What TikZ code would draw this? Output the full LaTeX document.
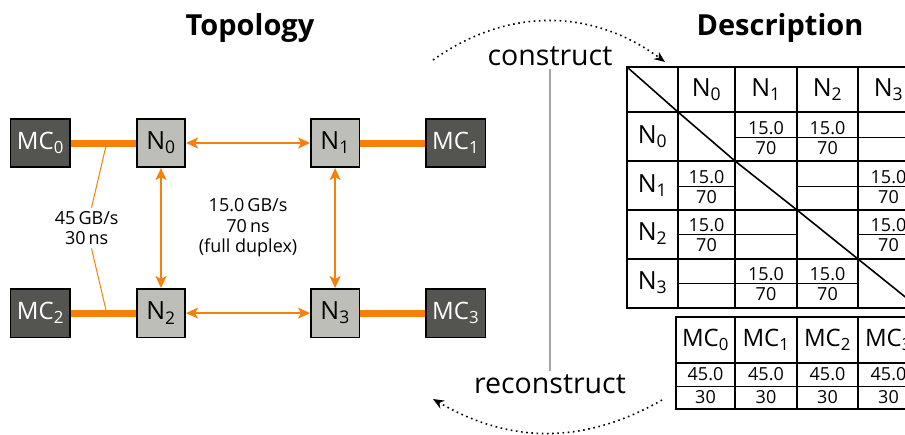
\documentclass[tikz,border=0pt]{standalone}
\usepackage{fontspec}
\setmainfont{Open Sans}
\usepackage{xcolor}
\usetikzlibrary{arrows.meta,positioning,calc}

\definecolor{linkorange}{RGB}{245,128,10}
\definecolor{nodegray}{RGB}{188,190,183}
\definecolor{mcgray}{RGB}{84,85,80}
\definecolor{divgray}{RGB}{165,165,165}
\newcommand{\idx}[1]{\textsubscript{#1}}

\begin{document}
\begin{tikzpicture}[
    x=1pt, y=-1pt,
    nodebox/.style={draw, line width=1.6pt, fill=nodegray, minimum size=48.5pt, inner sep=0pt, font=\fontsize{25}{28}\selectfont},
    mcbox/.style={draw, line width=1.6pt, fill=mcgray, text=white, minimum width=59.5pt, minimum height=48.5pt, inner sep=0pt, font=\fontsize{24}{27}\selectfont},
    mclink/.style={line width=7pt, linkorange},
    link/.style={{Stealth[length=12pt,width=11pt,inset=3pt]}-{Stealth[length=12pt,width=11pt,inset=3pt]}, line width=2pt, linkorange},
    bwline/.style={line width=1pt, linkorange},
    note/.style={align=center, font=\fontsize{18}{20.5}\selectfont},
    title/.style={font=\fontsize{29}{32}\selectfont\bfseries},
    verb/.style={font=\fontsize{28.5}{32}\selectfont},
    divider/.style={line width=2pt, divgray},
    flow/.style={-{Stealth[length=11pt,width=9pt]}, line width=1.6pt, dash pattern=on 1.6pt off 3.6pt},
    grid/.style={line width=1.6pt},
    half/.style={line width=0.9pt},
    hdr/.style={font=\fontsize{25}{28}\selectfont},
    mhdr/.style={font=\fontsize{24}{27}\selectfont},
    val/.style={font=\fontsize{18}{20}\selectfont, inner sep=0pt},
]
    \useasboundingbox (0,0) rectangle (905,434);
    \clip (0,0) rectangle (905,434);

    % topology
    \node[title] (topo) at (250,28) {Topology};
    \node[nodebox] (n0) at (161,143) {N\idx{0}};
    \node[nodebox, right=124pt of n0] (n1) {N\idx{1}};
    \node[nodebox, below=120pt of n0] (n2) {N\idx{2}};
    \node[nodebox, below=120pt of n1] (n3) {N\idx{3}};
    \node[mcbox, left=65pt of n0] (mc0) {MC\idx{0}};
    \node[mcbox, right=65pt of n1] (mc1) {MC\idx{1}};
    \node[mcbox, left=65pt of n2] (mc2) {MC\idx{2}};
    \node[mcbox, right=65pt of n3] (mc3) {MC\idx{3}};

    \draw[mclink] (mc0) -- (n0);
    \draw[mclink] (mc1) -- (n1);
    \draw[mclink] (mc2) -- (n2);
    \draw[mclink] (mc3) -- (n3);

    \draw[link] (n0) -- (n1);
    \draw[link] (n2) -- (n3);
    \draw[link] (n0) -- (n2);
    \draw[link] (n1) -- (n3);

    \coordinate (bw0) at ($(mc0.east)!.55!(n0.west)$);
    \coordinate (bw2) at ($(mc2.east)!.55!(n2.west)$);
    \node[note] (mclab) at ($(bw0)!.5!(bw2)+(-20,0)$) {45\,GB/s\\30\,ns};
    \draw[bwline] (bw0) -- (mclab) -- (bw2);
    \node[note] (nlab) at ($(n0)!.5!(n3)$) {15.0\,GB/s\\70\,ns\\(full duplex)};

    % construct / reconstruct
    \node[verb] (cons) at (550,56) {construct};
    \node[verb] (recons) at (550,384) {reconstruct};
    \draw[divider] (cons) -- (recons);
    \coordinate (cs) at (433,60);
    \coordinate (ce) at (665,62);
    \coordinate (rs) at (662,400);
    \coordinate (re) at (433,399);
    \draw[flow] (cs) to[bend left=36] (ce);
    \draw[flow] (rs) to[bend left=30] (re);

    % description
    \node[title] (desc) at (780,28) {Description};
    \foreach \c/\xm in {0/706.5,1/766,2/827.5,3/888.5}
        \coordinate (col\c) at (\xm,0);
    \foreach \r/\y in {0/137,1/186,2/234,3/283} {
        \coordinate (up\r) at (0,\y-9);
        \coordinate (lo\r) at (0,\y+11.5);
        \node[hdr] (rh\r) at (652.5,\y) {N\idx{\r}};
        \foreach \c/\xl/\xr in {0/678/735,1/735/797,2/797/858,3/858/919} {
            \ifnum\r=\c\else \draw[half] (\xl,\y) -- (\xr,\y); \fi
        }
    }
    \foreach \c in {0,...,3}
        \node[hdr] (ch\c) at (col\c |- 0,89.5) {N\idx{\c}};
    \foreach \r/\c in {0/1,0/2,1/0,1/3,2/0,2/3,3/1,3/2} {
        \node[val] (bw\r\c) at (col\c |- up\r) {15.0};
        \node[val] (lat\r\c) at (col\c |- lo\r) {70};
    }
    \draw[grid] (627,67) rectangle (919,308);
    \foreach \x in {678,735,797,858}
        \draw[grid] (\x,67) -- (\x,308);
    \foreach \y in {112,161,210,259}
        \draw[grid] (627,\y) -- (919,\y);
    \draw[grid] (627,67) -- (678,112) -- (735,161) -- (797,210) -- (858,259) -- (919,308);

    % memory controller table
    \draw[grid] (676,317) rectangle (919,409);
    \foreach \x in {735,797,858}
        \draw[grid] (\x,317) -- (\x,409);
    \draw[grid] (676,363) -- (919,363);
    \draw[half] (676,386) -- (919,386);
    \foreach \c/\xm in {0/705.5,1/766,2/827.5,3/888.5} {
        \node[mhdr] (mh\c) at (\xm,340) {MC\idx{\c}};
        \node[val] (mbw\c) at (\xm,374.5) {45.0};
        \node[val] (mlat\c) at (\xm,397.5) {30};
    }
\end{tikzpicture}
\end{document}
